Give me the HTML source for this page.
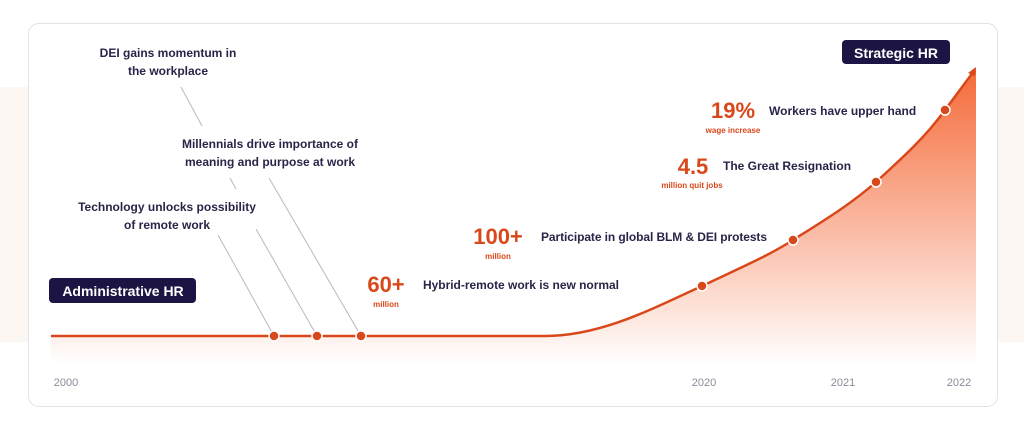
<!DOCTYPE html>
<html><head><meta charset="utf-8"><style>
body{margin:0;width:1024px;height:430px;background:#fff;position:relative;overflow:hidden;font-family:"Liberation Sans",sans-serif}
.band{position:absolute;left:0;top:87px;width:1024px;height:255px;background:#fdf7f3}
.card{position:absolute;left:28px;top:23px;width:968px;height:382px;background:#fff;border:1px solid #e2e2e6;border-radius:11px}
svg{position:absolute;left:0;top:0}
.t{font-weight:bold;fill:#2a2448;font-size:12px}
.o{font-weight:bold;fill:#d9481a}
.ax{fill:#8c8a9a;font-size:11px}
</style></head><body>
<div class="band"></div><div class="card"></div>
<svg width="1024" height="430">
<defs><linearGradient id="g" x1="0" y1="68" x2="0" y2="364" gradientUnits="userSpaceOnUse">
<stop offset="0" stop-color="#f4622e" stop-opacity="0.95"/>
<stop offset="0.9" stop-color="#f4622e" stop-opacity="0.1"/>
<stop offset="1" stop-color="#f4622e" stop-opacity="0"/></linearGradient></defs>
<path d="M51 336 L545 336 C600 336 650 310 702 286 C740 268 770 255 793 240 C820 223 850 205 876 182 C900 160 925 138 945 110 L976 68 L976 364 L51 364 Z" fill="url(#g)"/>
<g stroke="#b8b8c2" stroke-width="1">
<line x1="181" y1="87" x2="202" y2="126"/><line x1="230" y1="178" x2="236" y2="189"/>
<line x1="256" y1="229" x2="317" y2="336"/>
<line x1="269" y1="178" x2="361" y2="336"/>
<line x1="218" y1="235" x2="274" y2="336"/>
</g>
<path d="M51 336 L545 336 C600 336 650 310 702 286 C740 268 770 255 793 240 C820 223 850 205 876 182 C900 160 925 138 945 110 L974 71" fill="none" stroke="#d9481a" stroke-width="2.5"/>
<path d="M976 67 L968 73 L975 76 Z" fill="#d9481a"/>
<g fill="#d9481a" stroke="#fff" stroke-width="1.5">
<circle cx="274" cy="336" r="5"/><circle cx="317" cy="336" r="5"/><circle cx="361" cy="336" r="5"/>
<circle cx="702" cy="286" r="5"/><circle cx="793" cy="240" r="5"/><circle cx="876" cy="182" r="5"/><circle cx="945" cy="110" r="5"/>
</g>
<g class="t" text-anchor="middle">
<text x="168" y="57">DEI gains momentum in</text><text x="168" y="75">the workplace</text>
<text x="270" y="148">Millennials drive importance of</text><text x="270" y="166">meaning and purpose at work</text>
<text x="167" y="211">Technology unlocks possibility</text><text x="167" y="229">of remote work</text>
</g>
<rect x="49" y="278" width="147" height="25" rx="4" fill="#1c1442"/>
<text x="123" y="296" text-anchor="middle" fill="#fff" font-weight="bold" font-size="14">Administrative HR</text>
<rect x="842" y="40" width="108" height="24" rx="4" fill="#1c1442"/>
<text x="896" y="58" text-anchor="middle" fill="#fff" font-weight="bold" font-size="14">Strategic HR</text>
<g class="o" text-anchor="middle">
<text x="386" y="292" font-size="22">60+</text><text x="386" y="307" font-size="8">million</text>
<text x="498" y="244" font-size="22">100+</text><text x="498" y="259" font-size="8">million</text>
<text x="693" y="174" font-size="22">4.5</text><text x="692" y="188" font-size="8">million quit jobs</text>
<text x="733" y="118" font-size="22">19%</text><text x="733" y="133" font-size="8">wage increase</text>
</g>
<g class="t">
<text x="423" y="289" textLength="196">Hybrid-remote work is new normal</text>
<text x="541" y="241" textLength="226">Participate in global BLM &amp; DEI protests</text>
<text x="723" y="170">The Great Resignation</text>
<text x="769" y="115">Workers have upper hand</text>
</g>
<g class="ax" text-anchor="middle">
<text x="66" y="386">2000</text><text x="704" y="386">2020</text><text x="843" y="386">2021</text><text x="959" y="386">2022</text>
</g>
</svg>
</body></html>
